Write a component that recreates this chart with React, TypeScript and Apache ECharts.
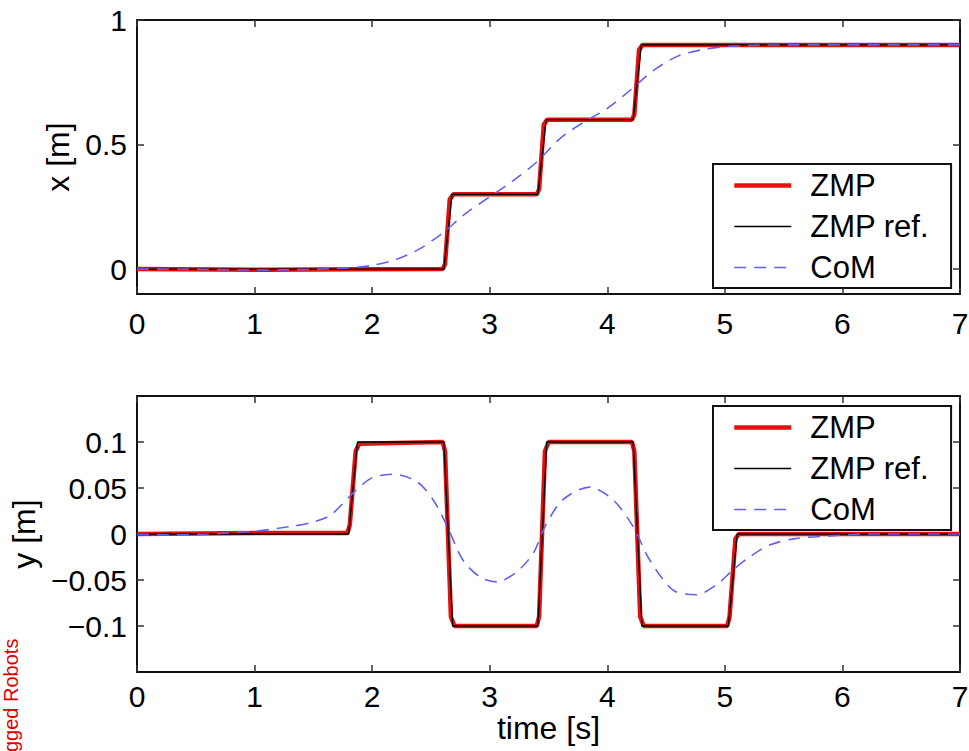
import React, { useEffect, useRef } from "react";
import * as echarts from "echarts";

// ---- axis ticks ----
const timeTicks = [0, 1, 2, 3, 4, 5, 6, 7];
const xPosTicks = [0, 0.5, 1];
const yPosTicks = [-0.1, -0.05, 0, 0.05, 0.1];
const legendNames = ["ZMP", "ZMP ref.", "CoM"];

// ---- top plot: x [m] ----
const zmpXTime = [0, 1.1, 1.9, 2.6, 2.62, 2.66, 2.69, 3.4, 3.42, 3.46, 3.49, 4.21, 4.23, 4.27, 4.3, 7];
const zmpXVal = [0, -0.003, -0.001, 0, 0.02, 0.28, 0.3, 0.3, 0.32, 0.58, 0.6, 0.6, 0.62, 0.88, 0.9, 0.9];
const zmpRefXTime = [0, 2.61, 2.68, 3.41, 3.48, 4.22, 4.29, 7];
const zmpRefXVal = [0, 0, 0.3, 0.3, 0.6, 0.6, 0.9, 0.9];
const comXTime = [0, 0.5, 1.0, 1.5, 1.8, 2.0, 2.2, 2.4, 2.6, 2.8, 3.0, 3.2, 3.4, 3.6, 3.8, 4.0, 4.2, 4.4, 4.6, 4.8, 5.0, 5.3, 5.6, 6.0, 6.5, 7.0];
const comXVal = [0, -0.001, -0.004, -0.001, 0.005, 0.015, 0.038, 0.08, 0.145, 0.225, 0.29, 0.355, 0.43, 0.525, 0.59, 0.645, 0.72, 0.8, 0.855, 0.88, 0.893, 0.899, 0.9, 0.9, 0.9, 0.9];

// ---- bottom plot: y [m] ----
const zmpYTime = [0, 1.0, 1.79, 1.81, 1.86, 1.89, 2.6, 2.62, 2.67, 2.7, 3.4, 3.42, 3.47, 3.5, 4.21, 4.23, 4.28, 4.31, 5.02, 5.04, 5.09, 5.12, 7];
const zmpYVal = [0, 0.001, 0.001, 0.01, 0.09, 0.098, 0.1, 0.09, -0.09, -0.1, -0.1, -0.09, 0.09, 0.1, 0.1, 0.09, -0.09, -0.1, -0.1, -0.09, -0.005, 0, 0];
const zmpRefYTime = [0, 1.8, 1.875, 2.61, 2.685, 3.41, 3.485, 4.22, 4.295, 5.03, 5.105, 7];
const zmpRefYVal = [0, 0, 0.1, 0.1, -0.1, -0.1, 0.1, 0.1, -0.1, -0.1, 0, 0];
const comYTime = [0, 0.3, 0.6, 1.0, 1.3, 1.5, 1.65, 1.85, 2.0, 2.18, 2.38, 2.52, 2.64, 2.77, 2.92, 3.06, 3.23, 3.37, 3.47, 3.62, 3.85, 4.05, 4.22, 4.36, 4.56, 4.76, 4.93, 5.07, 5.21, 5.38, 5.6, 5.9, 6.2, 6.6, 7.0];
const comYVal = [0, -0.001, 0, 0.003, 0.008, 0.013, 0.021, 0.046, 0.061, 0.065, 0.057, 0.037, 0.008, -0.028, -0.047, -0.052, -0.041, -0.021, 0.008, 0.037, 0.051, 0.037, 0.008, -0.028, -0.061, -0.066, -0.055, -0.039, -0.025, -0.012, -0.005, -0.002, 0, 0, 0];

const zip = (t: number[], v: number[]) => t.map((x, i) => [x, v[i]]);

const FONT = "'Liberation Sans', Arial, Helvetica, sans-serif";
const RED = "#e60f0f";
const BLUE = "#6262f2";

const fmt = (v: number) => String(Math.round(v * 1000) / 1000).replace("-", "\u2212");

export default function App() {
  const ref = useRef<HTMLDivElement>(null);

  useEffect(() => {
    if (!ref.current) return;
    const chart = echarts.init(ref.current, null, { renderer: "svg" });

    const axisLine = { show: true, onZero: false, lineStyle: { color: "#111", width: 2 } };
    const tick = { show: true, inside: true, length: 7, lineStyle: { color: "#333", width: 1.5 } };
    const label = { color: "#000", fontSize: 30, fontFamily: FONT };

    const timeAxis = (grid: number, pos: "bottom" | "top", withLabel: boolean, margin: number, name?: string) => ({
      type: "value",
      gridIndex: grid,
      position: pos,
      min: 0,
      max: 7,
      interval: 1,
      axisLine,
      axisTick: tick,
      splitLine: { show: false },
      axisLabel: withLabel ? { ...label, margin, formatter: (v: number) => fmt(v) } : { show: false },
      name: name || "",
      nameLocation: "middle",
      nameGap: 40,
      nameTextStyle: { color: "#000", fontSize: 32, fontFamily: FONT },
    });

    const valAxis = (grid: number, pos: "left" | "right", withLabel: boolean, min: number, max: number, ticks: number[], name?: string, gap?: number) => ({
      type: "value",
      gridIndex: grid,
      position: pos,
      min,
      max,
      axisLine,
      axisTick: { ...tick, customValues: ticks },
      splitLine: { show: false },
      axisLabel: withLabel
        ? { ...label, margin: 10, customValues: ticks, formatter: (v: number) => fmt(v) }
        : { show: false },
      name: name || "",
      nameLocation: "middle",
      nameRotate: 90,
      nameGap: gap || 0,
      nameTextStyle: { color: "#000", fontSize: 32, fontFamily: FONT },
    });

    const mkLegend = (top: number) => ({
      show: true,
      left: 713,
      top,
      orient: "vertical",
      data: legendNames,
      itemWidth: 57,
      itemHeight: 14,
      itemGap: 10,
      padding: [6, 22, 5, 19],
      borderColor: "#111",
      borderWidth: 2,
      borderRadius: 0,
      backgroundColor: "#fff",
      selectedMode: false,
      itemStyle: { opacity: 0 },
      lineStyle: { width: "inherit" },
      textStyle: { color: "#000", fontSize: 31, fontFamily: FONT, lineHeight: 30, padding: [0, 0, 0, 14] },
    });

    const lineSeries = (name: string, data: number[][], axis: number, color: string, width: number, z: number, dashed: boolean, smooth: number | boolean) => ({
      name,
      type: "line",
      xAxisIndex: axis,
      yAxisIndex: axis,
      data,
      symbol: "none",
      showSymbol: false,
      smooth,
      z,
      lineStyle: { color, width, type: dashed ? [12, 8] : "solid" },
      itemStyle: { color },
    });

    chart.setOption({
      animation: false,
      backgroundColor: "#fff",
      grid: [
        { left: 137, right: 9, top: 20, height: 274, outerBoundsMode: "none" },
        { left: 137, right: 9, top: 396, height: 276, outerBoundsMode: "none" },
      ],
      xAxis: [
        timeAxis(0, "bottom", true, 14),
        timeAxis(1, "bottom", true, 9, "time [s]"),
        timeAxis(0, "top", false, 0),
        timeAxis(1, "top", false, 0),
      ],
      yAxis: [
        valAxis(0, "left", true, -0.1, 1, xPosTicks, "x [m]", 52),
        valAxis(1, "left", true, -0.15, 0.15, yPosTicks, "y [m]", 86),
        valAxis(0, "right", false, -0.1, 1, xPosTicks),
        valAxis(1, "right", false, -0.15, 0.15, yPosTicks),
      ],
      legend: [mkLegend(164), mkLegend(406)],
      series: [
        lineSeries("ZMP", zip(zmpXTime, zmpXVal), 0, RED, 4.5, 2, false, false),
        lineSeries("ZMP ref.", zip(zmpRefXTime, zmpRefXVal), 0, "#000", 1.3, 3, false, false),
        lineSeries("CoM", zip(comXTime, comXVal), 0, BLUE, 1.6, 4, true, 0.3),
        lineSeries("ZMP", zip(zmpYTime, zmpYVal), 1, RED, 4.5, 2, false, false),
        lineSeries("ZMP ref.", zip(zmpRefYTime, zmpRefYVal), 1, "#000", 1.3, 3, false, false),
        lineSeries("CoM", zip(comYTime, comYVal), 1, BLUE, 1.6, 4, true, 0.3),
      ],
      graphic: [
        {
          type: "text",
          x: 11,
          y: 752,
          rotation: Math.PI / 2,
          style: {
            text: "gged Robots",
            fontSize: 20,
            fontFamily: FONT,
            fill: "#e00000",
            align: "left",
            verticalAlign: "middle",
          },
        },
      ],
    });

    return () => chart.dispose();
  }, []);

  return (
    <div
      ref={ref}
      style={{ position: "fixed", left: 0, top: 0, width: 969, height: 751, background: "#fff" }}
    />
  );
}
